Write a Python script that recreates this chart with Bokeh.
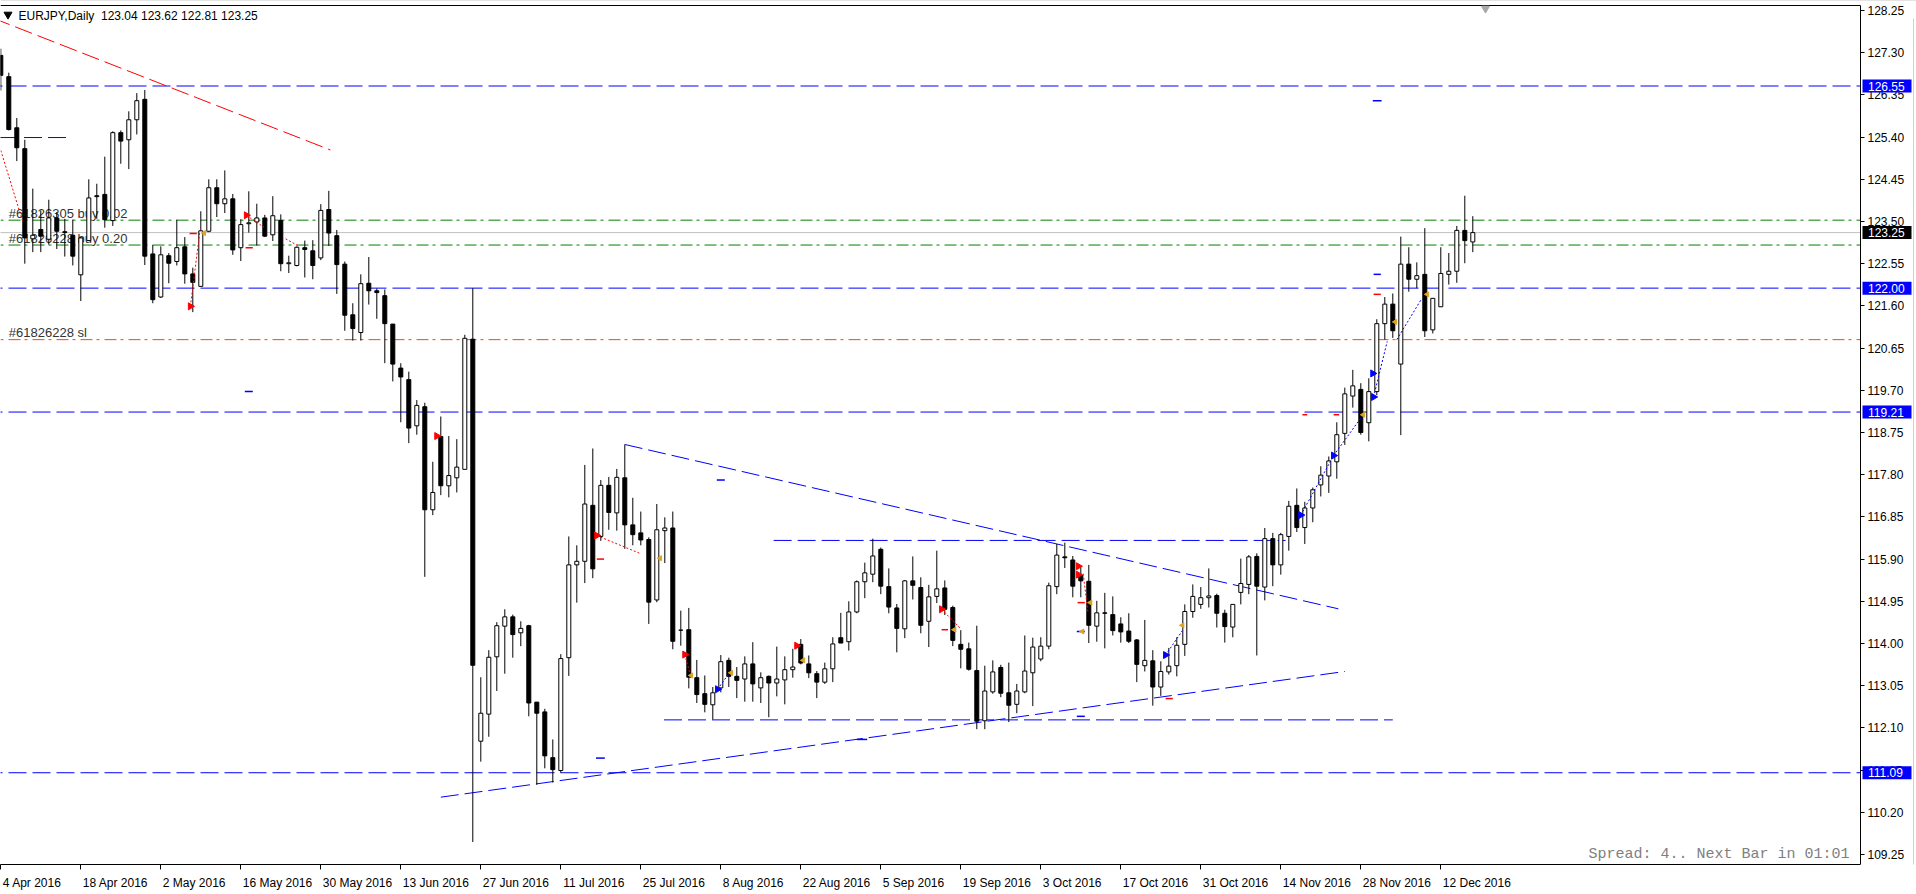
import math
from bokeh.plotting import figure
from bokeh.models import Range1d, FixedTicker
from bokeh.embed import file_html
from bokeh.resources import INLINE
from bokeh.core.properties import value

# ---------------- data ----------------
header_text = "EURJPY,Daily\u00a0\u00a0123.04 123.62 122.81 123.25"

opens = [127.24, 126.76, 125.61, 125.14, 123.11, 123.32, 123.10, 123.58, 123.27, 123.19,
         122.30, 123.07, 124.08, 124.11, 123.52, 125.50, 125.34, 125.79, 126.25, 122.77,
         121.80, 122.73, 122.60, 122.93, 122.32, 122.04, 123.28, 124.26, 123.90, 124.01,
         122.91, 123.45, 123.49, 123.58, 123.20, 123.52, 122.55, 122.51, 122.91, 122.84,
         122.68, 123.77, 123.18, 122.54, 121.40, 121.00, 122.11, 121.94, 121.83, 121.19,
         120.20, 119.94, 118.90, 119.33, 117.01, 118.66, 117.55, 117.73, 117.92, 120.85,
         111.80, 112.41, 113.70, 114.39, 114.60, 114.24, 114.40, 112.68, 112.46, 111.43,
         111.14, 113.68, 115.77, 115.85, 117.11, 116.41, 117.56, 116.94, 117.73, 116.67,
         116.49, 116.34, 114.98, 116.54, 116.60, 114.30, 114.31, 113.23, 112.87, 112.62,
         113.00, 113.62, 113.26, 113.20, 113.54, 113.00, 113.26, 113.11, 113.18, 113.41,
         113.98, 113.54, 113.32, 113.13, 113.43, 114.13, 114.04, 114.71, 115.39, 115.56,
         116.12, 115.28, 114.80, 114.33, 115.41, 115.26, 114.50, 115.06, 115.25, 114.81,
         113.98, 113.88, 113.39, 112.26, 112.91, 113.46, 112.89, 112.63, 112.91, 113.34,
         113.65, 113.94, 115.28, 115.95, 115.88, 115.53, 115.40, 114.39, 114.69, 114.65,
         114.44, 114.28, 114.08, 113.50, 113.61, 113.02, 113.36, 113.50, 113.98, 114.72,
         114.88, 115.03, 115.08, 114.68, 114.37, 115.15, 115.33, 115.96, 115.27, 116.36,
         115.77, 116.41, 117.11, 116.61, 117.05, 117.57, 117.77, 118.09, 118.73, 119.57,
         119.72, 118.97, 119.67, 121.20, 121.64, 120.29, 122.54, 122.20, 122.31, 121.06,
         121.58, 122.31, 122.38, 123.30, 123.04]
highs = [127.39, 126.85, 125.83, 125.34, 124.24, 123.75, 123.99, 123.71, 123.56, 123.54,
         123.15, 124.45, 124.35, 124.96, 125.53, 125.55, 125.98, 126.39, 126.46, 122.97,
         122.94, 122.79, 123.54, 123.15, 122.46, 123.73, 124.45, 124.45, 124.65, 124.12,
         123.55, 124.18, 123.90, 123.65, 124.07, 123.66, 122.73, 122.94, 123.07, 123.08,
         123.89, 124.19, 123.31, 122.60, 121.66, 122.31, 122.70, 121.99, 121.97, 121.19,
         120.31, 120.12, 119.48, 119.42, 118.09, 119.11, 118.67, 118.60, 120.95, 122.00,
         113.24, 113.85, 114.48, 114.77, 114.65, 114.50, 114.42, 112.68, 112.53, 111.84,
         113.76, 116.41, 116.21, 118.02, 118.39, 117.68, 117.75, 117.93, 118.48, 117.28,
         116.97, 116.39, 117.14, 116.84, 116.97, 114.74, 114.80, 113.63, 113.28, 113.02,
         113.74, 113.68, 113.47, 113.71, 114.03, 113.35, 113.28, 113.93, 113.71, 113.88,
         114.10, 113.73, 113.38, 113.57, 114.14, 114.69, 114.95, 115.42, 115.82, 116.36,
         116.16, 115.69, 114.89, 115.43, 115.96, 115.49, 115.32, 116.09, 115.42, 114.85,
         114.30, 114.02, 114.40, 113.50, 113.62, 113.52, 113.57, 113.09, 114.18, 114.13,
         114.14, 115.37, 116.24, 116.27, 115.97, 115.72, 115.77, 114.96, 115.14, 115.06,
         114.59, 114.68, 114.10, 114.53, 113.85, 113.60, 113.90, 114.14, 114.88, 115.33,
         115.27, 115.69, 115.12, 114.76, 114.88, 115.91, 115.99, 116.03, 116.60, 116.49,
         116.49, 117.21, 117.49, 117.19, 117.51, 117.99, 118.21, 118.98, 119.76, 120.16,
         119.86, 119.97, 121.30, 121.80, 121.88, 123.16, 122.92, 122.58, 123.35, 121.77,
         122.92, 122.79, 123.40, 124.08, 123.62]
lows = [126.45, 125.55, 124.86, 122.55, 122.81, 122.81, 122.98, 122.88, 122.71, 122.51,
        121.71, 123.07, 123.56, 123.36, 123.40, 124.80, 124.68, 125.46, 122.52, 121.66,
        121.78, 122.11, 122.51, 122.10, 121.46, 122.04, 123.26, 123.60, 123.69, 122.75,
        122.61, 123.25, 122.96, 123.15, 123.06, 122.38, 122.34, 122.49, 122.24, 122.20,
        122.63, 122.95, 121.87, 121.04, 120.82, 120.82, 121.63, 121.31, 120.31, 119.90,
        118.98, 118.51, 118.70, 115.50, 116.89, 117.34, 117.29, 117.40, 117.92, 109.53,
        111.34, 111.90, 112.93, 113.32, 113.68, 113.94, 112.36, 110.82, 111.19, 110.87,
        111.09, 113.27, 114.92, 115.36, 115.47, 116.31, 116.56, 116.54, 116.13, 116.21,
        116.21, 114.44, 114.93, 115.81, 113.87, 113.95, 112.99, 112.66, 112.45, 112.29,
        112.90, 113.02, 112.77, 112.69, 112.69, 112.66, 112.34, 112.81, 112.63, 113.23,
        113.53, 113.22, 112.77, 113.09, 113.13, 114.01, 113.84, 114.68, 115.02, 115.38,
        115.11, 114.68, 113.80, 114.12, 114.99, 114.23, 113.92, 114.91, 114.64, 113.94,
        113.44, 113.39, 112.07, 112.07, 112.87, 112.79, 112.23, 112.43, 112.88, 112.59,
        113.60, 113.87, 115.11, 115.70, 115.04, 115.04, 114.01, 114.04, 113.89, 114.18,
        114.02, 114.01, 113.13, 113.37, 112.60, 112.82, 113.30, 113.26, 113.72, 114.58,
        114.78, 114.81, 114.36, 114.02, 114.14, 114.88, 115.11, 113.73, 114.97, 115.29,
        115.55, 116.09, 116.51, 116.24, 116.73, 117.31, 117.39, 117.71, 118.47, 119.31,
        118.70, 118.55, 119.59, 120.84, 120.88, 118.69, 121.92, 122.00, 120.90, 120.98,
        121.58, 122.08, 122.12, 122.56, 122.81]
closes = [126.79, 125.57, 125.16, 123.13, 123.19, 123.17, 123.58, 123.28, 123.25, 122.72,
          123.13, 124.03, 124.06, 123.54, 125.50, 125.31, 125.79, 126.22, 122.72, 121.74,
          122.75, 122.56, 122.91, 122.32, 122.13, 123.29, 124.26, 123.90, 124.01, 122.86,
          123.43, 123.47, 123.58, 123.17, 123.63, 122.55, 122.57, 122.92, 122.87, 122.51,
          123.75, 123.24, 122.53, 121.39, 121.09, 122.10, 121.94, 121.90, 121.20, 120.29,
          120.00, 118.85, 119.36, 117.01, 117.40, 117.55, 117.78, 117.97, 120.87, 113.51,
          112.43, 113.69, 114.40, 114.60, 114.20, 114.34, 112.66, 112.43, 111.47, 111.16,
          113.66, 115.77, 115.85, 117.14, 115.68, 117.56, 116.95, 117.74, 116.67, 116.45,
          116.33, 114.93, 116.56, 116.60, 114.05, 114.30, 113.24, 112.85, 112.63, 112.89,
          113.59, 113.26, 113.17, 113.54, 113.09, 113.23, 113.11, 113.20, 113.41, 113.47,
          113.56, 113.34, 113.13, 113.43, 113.99, 114.01, 114.71, 115.39, 115.59, 115.97,
          115.29, 114.82, 114.34, 115.41, 115.31, 114.41, 115.05, 115.23, 114.77, 114.07,
          113.87, 113.42, 112.25, 112.93, 113.36, 112.88, 112.61, 112.93, 113.38, 113.92,
          113.94, 115.30, 115.99, 115.93, 115.29, 115.41, 114.41, 114.69, 114.68, 114.29,
          114.26, 114.05, 113.53, 113.62, 113.02, 113.37, 113.49, 113.96, 114.72, 115.06,
          115.03, 115.07, 114.68, 114.38, 114.88, 115.35, 115.95, 115.29, 116.36, 115.77,
          116.45, 117.09, 116.61, 117.05, 117.46, 117.79, 118.11, 118.70, 119.62, 119.80,
          118.75, 119.67, 121.20, 121.64, 121.04, 122.54, 122.20, 122.28, 121.04, 121.77,
          122.33, 122.38, 123.30, 123.07, 123.25]
bar_index = list(range(len(opens)))

date_tick_index = [0, 10, 20, 30, 40, 50, 60, 70, 80, 90, 100, 110, 120, 130, 140, 150, 160, 170, 180]
date_tick_labels = ["4 Apr 2016", "18 Apr 2016", "2 May 2016", "16 May 2016", "30 May 2016",
                    "13 Jun 2016", "27 Jun 2016", "11 Jul 2016", "25 Jul 2016", "8 Aug 2016",
                    "22 Aug 2016", "5 Sep 2016", "19 Sep 2016", "3 Oct 2016", "17 Oct 2016",
                    "31 Oct 2016", "14 Nov 2016", "28 Nov 2016", "12 Dec 2016"]
price_ticks = [109.25, 110.20, 111.15, 112.10, 113.05, 114.00, 114.95, 115.90, 116.85, 117.80,
               118.75, 119.70, 120.65, 121.60, 122.55, 123.50, 124.45, 125.40, 126.35, 127.30, 128.25]

blue_levels = [126.55, 122.00, 119.21, 111.09]
blue_level_labels = ["126.55", "122.00", "119.21", "111.09"]
order_levels = [123.53, 122.97]
order_texts = ["#61826305 buy 0.02", "#61826228 buy 0.20"]
stop_level = 120.84
stop_text = "#61826228 sl"
bid_price = 123.25
bid_label = "123.25"
spread_text = "Spread: 4.. Next Bar in 01:01"

# trend lines (bar index, price)
red_trend_x = [-1.0, 41.2]
red_trend_y = [128.08, 125.11]
tri_upper_x = [78.0, 167.2]
tri_upper_y = [118.48, 114.78]
tri_lower_x = [55.0, 168.0]
tri_lower_y = [110.54, 113.37]
hseg_x0 = [96.6, 82.9, -0.1]
hseg_x1 = [160.6, 174.0, 8.2]
hseg_y = [116.32, 112.28, 125.39]

# trade history marks
red_arrow_x = [23.7, 30.7, 54.5, 74.5, 85.5, 99.5, 117.6, 134.7, 134.7]
red_arrow_y = [121.59, 123.64, 118.67, 116.43, 113.75, 113.95, 114.77, 115.74, 115.55]
blue_arrow_x = [89.6, 145.6, 162.5, 166.6, 171.6, 171.5]
blue_arrow_y = [112.97, 113.74, 116.89, 118.23, 119.55, 120.08]
red_tick_x0 = [23.6, 30.6, 74.5, 117.6, 134.6, 171.6, 162.7, 166.6, 145.6]
red_tick_x1 = [24.5, 31.5, 75.4, 118.4, 135.5, 172.5, 163.3, 167.3, 146.5]
red_tick_y = [123.23, 122.91, 115.90, 114.31, 114.92, 121.86, 119.15, 119.15, 112.76]
blue_tick_x0 = [89.5, 30.5, 171.5, 171.6, 74.4, 134.5, 134.5, 107.0]
blue_tick_x1 = [90.5, 31.5, 172.6, 172.5, 75.5, 135.5, 135.5, 108.3]
blue_tick_y = [117.68, 119.67, 126.22, 122.31, 111.42, 112.36, 114.27, 111.84]
red_dot_x0 = [0.0, 23.7, 30.7, 35.6, 74.5, 85.5, 117.6, 135.3]
red_dot_x1 = [2.7, 24.9, 32.9, 37.1, 80.0, 86.2, 120.0, 135.9]
red_dot_y0 = [125.10, 121.59, 123.64, 123.11, 116.43, 113.75, 114.77, 115.57]
red_dot_y1 = [123.52, 123.30, 123.37, 122.96, 116.02, 113.28, 114.33, 114.70]
blue_dot_x0 = [89.6, 145.6, 162.5, 166.6, 171.6, 174.5]
blue_dot_x1 = [91.0, 147.7, 166.6, 170.3, 173.3, 177.6]
blue_dot_y0 = [112.97, 113.74, 116.89, 118.23, 119.55, 120.84]
blue_dot_y1 = [113.32, 114.29, 118.23, 119.15, 120.80, 121.76]
gold_x = [25.4, 82.4, 86.3, 91.3, 100.3, 119.2, 136.2, 135.2, 147.7, 170.3, 174.3, 178.3]
gold_y = [123.24, 115.92, 113.28, 113.34, 113.62, 114.31, 114.92, 114.27, 114.41, 119.15, 121.24, 121.86]

# ---------------- geometry ----------------
PX_PER_BAR = 8.0
X_SHIFT = 0.3
CANVAS_W = 1916
CHART_W = 1860          # x of the price scale line
PX_PER_UNIT = 44.42


def px_to_bar(px):
    return (px - X_SHIFT) / PX_PER_BAR


def py_to_price(py):
    return 128.25 - (py - 10) / PX_PER_UNIT


X0 = px_to_bar(0)
X1 = px_to_bar(CANVAS_W)
X_AXIS = px_to_bar(CHART_W)
TOP_PRICE = py_to_price(0)
BOT_PRICE = py_to_price(864)
CHART_TOP = py_to_price(5)

# approximate advance widths (Arial / Liberation Sans, per 1000 em) to left-align date labels
_W = {" ": 278, "A": 667, "p": 556, "r": 333, "M": 833, "a": 556, "y": 500, "J": 500, "u": 556,
      "n": 556, "l": 222, "g": 556, "S": 667, "e": 556, "O": 778, "c": 500, "t": 278, "N": 722,
      "o": 556, "v": 500, "D": 722}


def text_width(s, size=12):
    return sum(_W.get(ch, 556) for ch in s) * size / 1000.0


FONT = "Liberation Sans"

p = figure(width=1916, height=894, output_backend="svg", toolbar_location=None,
           x_range=Range1d(X0, X1), y_range=Range1d(BOT_PRICE, TOP_PRICE),
           y_axis_location="right",
           min_border_left=0, min_border_top=0, min_border_right=0, min_border_bottom=30)
p.background_fill_color = "white"
p.border_fill_color = "white"
p.outline_line_color = None
p.xgrid.visible = False
p.ygrid.visible = False

# price scale: Bokeh axis fixed at the right edge of the chart area
p.yaxis.fixed_location = X_AXIS
p.yaxis.bounds = (BOT_PRICE, CHART_TOP)
p.yaxis.ticker = FixedTicker(ticks=price_ticks)
p.yaxis.major_label_overrides = {t: "%.2f" % t for t in price_ticks}
p.yaxis.axis_line_color = "black"
p.yaxis.major_tick_line_color = "black"
p.yaxis.major_tick_in = 0
p.yaxis.major_tick_out = 4
p.yaxis.minor_tick_line_color = None
p.yaxis.major_label_standoff = 3
p.yaxis.major_label_text_font = FONT
p.yaxis.major_label_text_font_size = "12px"
p.yaxis.major_label_text_color = "black"

# bottom time axis: tick marks at the bars (minor ticks), labels left-aligned after each tick
label_centers = [round(i + (2 + text_width(s) / 2) / PX_PER_BAR, 4)
                 for i, s in zip(date_tick_index, date_tick_labels)]
p.xaxis.ticker = FixedTicker(ticks=label_centers, minor_ticks=date_tick_index)
p.xaxis.major_label_overrides = {c: s for c, s in zip(label_centers, date_tick_labels)}
p.xaxis.bounds = (X0, X_AXIS)
p.xaxis.axis_line_color = "black"
p.xaxis.major_tick_line_color = None
p.xaxis.major_tick_in = 0
p.xaxis.major_tick_out = 0
p.xaxis.minor_tick_line_color = "black"
p.xaxis.minor_tick_in = 0
p.xaxis.minor_tick_out = 5
p.xaxis.major_label_standoff = 6
p.xaxis.major_label_text_font = FONT
p.xaxis.major_label_text_font_size = "12px"
p.xaxis.major_label_text_color = "black"

# chart top border and window edges
p.segment(x0=[X0], x1=[X_AXIS], y0=[CHART_TOP], y1=[CHART_TOP], line_color="black", line_width=1)
p.segment(x0=[X0], x1=[X1], y0=[TOP_PRICE], y1=[TOP_PRICE], line_color="#C8C8C8", line_width=1)
p.segment(x0=[px_to_bar(1913)], x1=[px_to_bar(1913)], y0=[BOT_PRICE - 1], y1=[py_to_price(18)],
          line_color="#D0D0D0", line_width=1)

# ---------------- background objects ----------------
xa, xb = X0 - 2, X_AXIS
blue_dash = "18 6"
p.segment(x0=[xa] * len(blue_levels), x1=[xb] * len(blue_levels), y0=blue_levels, y1=blue_levels,
          line_color="#0000FF", line_width=1, line_dash=blue_dash)
p.segment(x0=[xa, xa], x1=[xb, xb], y0=order_levels, y1=order_levels,
          line_color="#008000", line_width=1, line_dash="12 4 3 5")
p.segment(x0=[xa], x1=[xb], y0=[stop_level], y1=[stop_level],
          line_color="#FF4500", line_width=1, line_dash="12 4 3 5")
p.segment(x0=[xa], x1=[xb], y0=[bid_price], y1=[bid_price], line_color="#C0C0C0", line_width=1)

p.line(red_trend_x, red_trend_y, line_color="#FF0000", line_width=1, line_dash=blue_dash)
p.line(tri_upper_x, tri_upper_y, line_color="#0000FF", line_width=1, line_dash=blue_dash)
p.line(tri_lower_x, tri_lower_y, line_color="#0000FF", line_width=1, line_dash=blue_dash)
p.segment(x0=hseg_x0, x1=hseg_x1, y0=hseg_y, y1=hseg_y, line_color="#0000FF", line_width=1,
          line_dash=blue_dash)

# order texts
txt_x = px_to_bar(8.3)
p.text(x=[txt_x, txt_x, txt_x],
       y=[py_to_price(212.7), py_to_price(237.7), py_to_price(332.0)],
       text=order_texts + [stop_text], text_font=value(FONT), text_font_size="13px",
       text_color="#333333", text_baseline="middle", text_align="left")

# ---------------- candles ----------------
up_x, up_top, up_bot = [], [], []
dn_x, dn_top, dn_bot = [], [], []
for i, o, c in zip(bar_index, opens, closes):
    if c >= o:
        up_x.append(i); up_top.append(c); up_bot.append(o)
    else:
        dn_x.append(i); dn_top.append(o); dn_bot.append(c)

p.segment(x0=bar_index, x1=bar_index, y0=lows, y1=highs, line_color="black", line_width=1)
p.vbar(x=up_x, width=0.5, top=up_top, bottom=up_bot, fill_color="white", line_color="black",
       line_width=1)
p.vbar(x=dn_x, width=0.5, top=dn_top, bottom=dn_bot, fill_color="black", line_color="black",
       line_width=1)

# ---------------- trade history marks ----------------
p.segment(x0=red_dot_x0, x1=red_dot_x1, y0=red_dot_y0, y1=red_dot_y1, line_color="#FF0000",
          line_width=1, line_dash="2 2")
p.segment(x0=blue_dot_x0, x1=blue_dot_x1, y0=blue_dot_y0, y1=blue_dot_y1, line_color="#0000FF",
          line_width=1, line_dash="2 2")
p.segment(x0=red_tick_x0, x1=red_tick_x1, y0=red_tick_y, y1=red_tick_y, line_color="#FF0000",
          line_width=1.5)
p.segment(x0=blue_tick_x0, x1=blue_tick_x1, y0=blue_tick_y, y1=blue_tick_y, line_color="#0000FF",
          line_width=1.5)
p.scatter(red_arrow_x, red_arrow_y, marker="triangle", angle=-math.pi / 2, size=7,
          fill_color="#FF0000", line_color="#FF0000")
p.scatter(blue_arrow_x, blue_arrow_y, marker="triangle", angle=-math.pi / 2, size=7,
          fill_color="#0000FF", line_color="#0000FF")
p.scatter(gold_x, gold_y, marker="triangle", angle=math.pi / 2, size=5,
          fill_color="#DAA520", line_color="#DAA520")

# header
p.scatter([px_to_bar(7.5)], [py_to_price(14.0)], marker="inverted_triangle", size=8,
          fill_color="black", line_color="black")
p.text(x=[px_to_bar(18.0)], y=[py_to_price(15.0)], text=[header_text], text_font=value(FONT),
       text_font_size="12px", text_color="black", text_baseline="middle", text_align="left")

# shift marker at top
p.scatter([px_to_bar(1485)], [py_to_price(8.0)], marker="inverted_triangle", size=8,
          fill_color="#A8A8A8", line_color="#A8A8A8")

# spread text
p.text(x=[px_to_bar(1849)], y=[py_to_price(854.0)], text=[spread_text],
       text_font=value("Liberation Mono"), text_font_size="15px", text_color="#808080",
       text_baseline="middle", text_align="right")

# ---------------- price boxes on the price scale (drawn above the axis) ----------------
box_levels = blue_levels + [bid_price]
box_texts = blue_level_labels + [bid_label]
box_colors = ["#0000FF"] * len(blue_levels) + ["black"]
half_h = 6.5 / PX_PER_UNIT
p.quad(left=[px_to_bar(1862)] * len(box_levels), right=[px_to_bar(1911)] * len(box_levels),
       top=[v + half_h for v in box_levels], bottom=[v - half_h for v in box_levels],
       fill_color=box_colors, line_color=None, level="overlay")
p.text(x=[px_to_bar(1867.5)] * len(box_levels), y=box_levels, text=box_texts,
       text_font=value(FONT), text_font_size="12px", text_color="white",
       text_baseline="middle", text_align="left", level="overlay")

open("out.html", "w").write(file_html(p, INLINE))
